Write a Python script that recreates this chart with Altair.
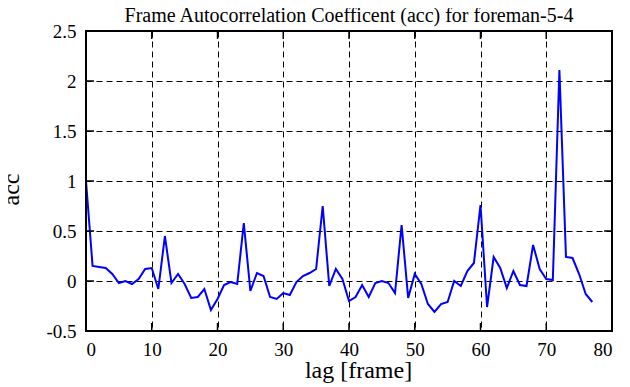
import altair as alt
import pandas as pd

lags = list(range(78))
acc = [1.0, 0.15, 0.14, 0.13, 0.07, -0.02, 0.0, -0.03, 0.02, 0.12,
       0.13, -0.08, 0.45, -0.02, 0.07, -0.03, -0.17, -0.16, -0.08, -0.29,
       -0.18, -0.04, -0.01, -0.03, 0.58, -0.1, 0.08, 0.05, -0.16, -0.18,
       -0.12, -0.14, -0.01, 0.05, 0.08, 0.12, 0.75, -0.05, 0.12, 0.02,
       -0.2, -0.16, -0.04, -0.16, -0.02, 0.0, -0.02, -0.12, 0.56, -0.17,
       0.07, -0.03, -0.23, -0.31, -0.23, -0.21, 0.0, -0.05, 0.1, 0.18,
       0.76, -0.26, 0.24, 0.13, -0.07, 0.1, -0.04, -0.05, 0.36, 0.12,
       0.02, 0.01, 2.11, 0.24, 0.23, 0.07, -0.13, -0.21]

x_ticks = [0, 10, 20, 30, 40, 50, 60, 70, 80]
y_ticks = [-0.5, 0, 0.5, 1, 1.5, 2, 2.5]
TITLE = "Frame Autocorrelation Coefficent (acc) for foreman-5-4"

W, H = 526, 300
FONT = "Liberation Serif"
TL = 8

df = pd.DataFrame({"lag": lags, "acc": acc})
xt = pd.DataFrame({"t": x_ticks})
yt = pd.DataFrame({"t": y_ticks})
tdf = pd.DataFrame({"title": [TITLE]})

xscale = alt.Scale(domain=[0, 80], nice=False, zero=False)
yscale = alt.Scale(domain=[-0.5, 2.5], nice=False, zero=False)

xaxis = alt.Axis(values=x_ticks, title="lag [frame]", labelExpr="'' + datum.value",
                 labelPadding=9, titleX=272, titleY=46,
                 titleBaseline="alphabetic", titleAlign="center")
yaxis = alt.Axis(values=y_ticks, title="acc", labelExpr="'' + datum.value",
                 labelPadding=10, titleX=-68, titleY=158, titleAngle=270,
                 titleBaseline="alphabetic", titleAlign="center")

line = alt.Chart(df).mark_line(color="#0000ff", strokeWidth=2).encode(
    x=alt.X("lag:Q", scale=xscale, axis=xaxis),
    y=alt.Y("acc:Q", scale=yscale, axis=yaxis),
)

TC = "black"
bt = alt.Chart(xt).mark_rule(color=TC, strokeWidth=1.5).encode(
    x=alt.X("t:Q", scale=xscale), y=alt.value(H - TL), y2=alt.value(H))
tt = alt.Chart(xt).mark_rule(color=TC, strokeWidth=1.5).encode(
    x=alt.X("t:Q", scale=xscale), y=alt.value(0), y2=alt.value(TL))
lt = alt.Chart(yt).mark_rule(color=TC, strokeWidth=1.5).encode(
    y=alt.Y("t:Q", scale=yscale), x=alt.value(0), x2=alt.value(TL))
rt = alt.Chart(yt).mark_rule(color=TC, strokeWidth=1.5).encode(
    y=alt.Y("t:Q", scale=yscale), x=alt.value(W - TL), x2=alt.value(W))

frame = alt.Chart(tdf).mark_rect(fillOpacity=0, stroke="black", strokeWidth=2).encode(
    x=alt.value(0), x2=alt.value(W), y=alt.value(0), y2=alt.value(H))

title = alt.Chart(tdf).mark_text(font=FONT, fontSize=20, color="black",
                                 align="center", baseline="alphabetic").encode(
    text="title:N", x=alt.value(W / 2), y=alt.value(-9))

chart = alt.layer(line, bt, tt, lt, rt, frame, title).properties(
    width=W, height=H,
    background="white",
    autosize=alt.AutoSizeParams(type="none"),
    padding={"left": 78, "top": 23, "right": 10, "bottom": 56},
).configure_axis(
    grid=True, gridDash=[6, 4], gridColor="black", gridOpacity=1, gridWidth=1,
    ticks=False, domain=False,
    labelFont=FONT, labelFontSize=19, labelColor="black",
    titleFont=FONT, titleFontSize=24, titleFontWeight="normal", titleColor="black",
)

chart.save("out.html", embed_options={"renderer": "svg", "actions": False})
